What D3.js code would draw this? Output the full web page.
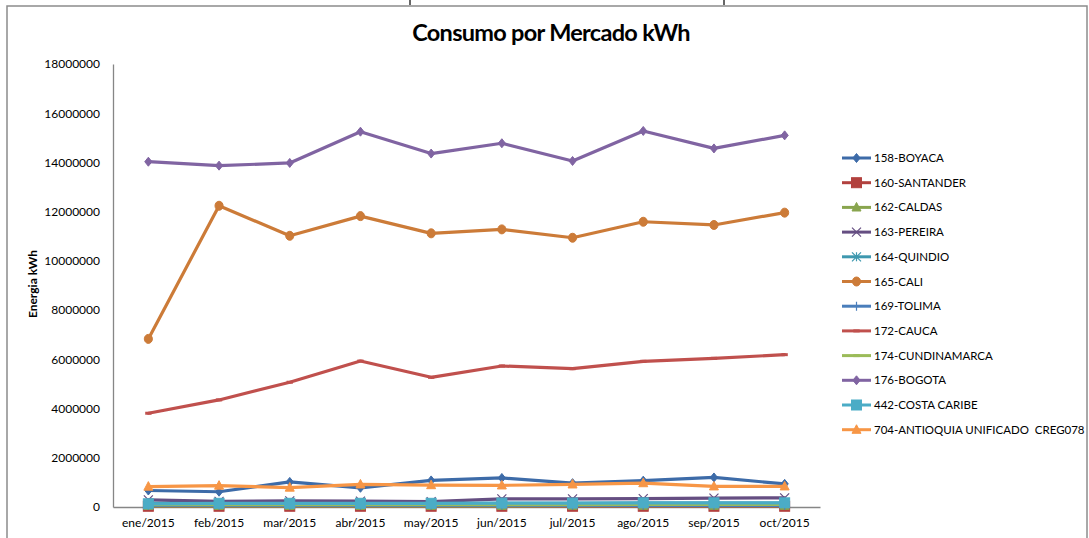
<!DOCTYPE html>
<html><head><meta charset="utf-8">
<script src="https://cdn.jsdelivr.net/npm/d3@7"></script>
<style>
html,body{margin:0;padding:0;background:#fff;}
text{font-family:Lato,"Open Sans",sans-serif;fill:#000;}
</style></head>
<body><svg id="c" width="1089" height="538"></svg>
<script>
const months = ["ene/2015","feb/2015","mar/2015","abr/2015","may/2015","jun/2015","jul/2015","ago/2015","sep/2015","oct/2015"];
const yTicks = [0,2000000,4000000,6000000,8000000,10000000,12000000,14000000,16000000,18000000];
const seriesNames = ["158-BOYACA","160-SANTANDER","162-CALDAS","163-PEREIRA","164-QUINDIO","165-CALI","169-TOLIMA","172-CAUCA","174-CUNDINAMARCA","176-BOGOTA","442-COSTA CARIBE","704-ANTIOQUIA UNIFICADO  CREG078"];
const boyaca      = [670000,620000,1020000,780000,1080000,1180000,970000,1070000,1200000,940000];
const santander   = [30000,30000,30000,30000,30000,30000,30000,30000,30000,30000];
const caldas      = [45000,45000,45000,45000,45000,45000,50000,50000,50000,50000];
const pereira     = [290000,230000,250000,240000,220000,330000,330000,340000,360000,370000];
const quindio     = [150000,140000,140000,140000,140000,150000,150000,160000,160000,160000];
const cali        = [6830000,12240000,11020000,11820000,11120000,11280000,10940000,11590000,11460000,11960000];
const tolima      = [70000,70000,70000,70000,70000,70000,70000,70000,70000,70000];
const cauca       = [3810000,4350000,5070000,5930000,5270000,5730000,5620000,5920000,6040000,6190000];
const cundinamarca= [100000,100000,100000,100000,100000,100000,100000,110000,110000,110000];
const bogota      = [14030000,13870000,13980000,15250000,14360000,14780000,14060000,15280000,14570000,15100000];
const costaCaribe = [130000,150000,150000,150000,150000,160000,160000,170000,170000,170000];
const antioquia   = [830000,870000,790000,920000,890000,880000,920000,970000,840000,840000];

const seriesValues = [boyaca,santander,caldas,pereira,quindio,cali,tolima,cauca,cundinamarca,bogota,costaCaribe,antioquia];
const colors  = ["#3D6BA8","#B2413E","#89A54E","#654E82","#3E98AF","#CC7B38","#4A7EBB","#C0504D","#9BBB59","#8064A2","#4BACC6","#F79646"];
const markers = ["diamond","square","triangle","x","star","circle","plus","dash","dash","diamond","square","triangle"];

const svg = d3.select("#c");
svg.append("rect").attr("x",7).attr("y",6).attr("width",1080).attr("height",545)
  .attr("fill","none").attr("stroke","#8c8c8c").attr("stroke-width",1.5);
svg.append("line").attr("x1",410).attr("x2",410).attr("y1",0).attr("y2",5).attr("stroke","#333").attr("stroke-width",1.5);
svg.append("line").attr("x1",724).attr("x2",724).attr("y1",0).attr("y2",5).attr("stroke","#333").attr("stroke-width",1.5);

svg.append("text").attr("x",551).attr("y",41).attr("text-anchor","middle")
  .style("font-weight","bold").style("font-size","23.5px").style("letter-spacing","-0.7px").text("Consumo por Mercado kWh");

const x = d3.scaleBand().domain(months).range([113,820]);
const y = d3.scaleLinear().domain([0,18000000]).range([507,64]);
const cx = m => x(m) + x.bandwidth()/2;

const gy = svg.append("g").attr("transform","translate(113,0)")
  .call(d3.axisLeft(y).tickValues(yTicks).tickFormat(d3.format("d")).tickSize(0).tickPadding(13));
gy.select(".domain").attr("stroke","#868686").attr("stroke-width",1.3);
gy.selectAll("text").style("font-size","12px").style("font-family","Lato");

const gx = svg.append("g").attr("transform","translate(0,507)")
  .call(d3.axisBottom(x).tickSize(0).tickPadding(11));
gx.select(".domain").attr("stroke","#868686").attr("stroke-width",1.3);
gx.selectAll("text").style("font-size","12px").style("font-family","Lato");

svg.append("text").attr("transform","translate(37,284) rotate(-90)").attr("text-anchor","middle")
  .style("font-weight","bold").style("font-size","12px").text("Energia kWh");

function drawMarker(g, type, px, py, color, s){
  if(type==="diamond"){
    g.append("path").attr("d",`M${px},${py-s}L${px+s*0.8},${py}L${px},${py+s}L${px-s*0.8},${py}Z`).attr("fill",color).attr("stroke",color);
  } else if(type==="square"){
    g.append("rect").attr("x",px-s).attr("y",py-s).attr("width",2*s).attr("height",2*s).attr("fill",color).attr("stroke",color);
  } else if(type==="triangle"){
    g.append("path").attr("d",`M${px},${py-s*1.1}L${px+s},${py+s*0.8}L${px-s},${py+s*0.8}Z`).attr("fill",color).attr("stroke",color);
  } else if(type==="circle"){
    g.append("ellipse").attr("cx",px).attr("cy",py).attr("rx",s*0.9).attr("ry",s).attr("fill",color).attr("stroke",color);
  } else if(type==="x"){
    g.append("path").attr("d",`M${px-s},${py-s}L${px+s},${py+s}M${px+s},${py-s}L${px-s},${py+s}`).attr("stroke",color).attr("stroke-width",1.2).attr("fill","none");
  } else if(type==="star"){
    g.append("path").attr("d",`M${px-s},${py-s}L${px+s},${py+s}M${px+s},${py-s}L${px-s},${py+s}M${px},${py-s}L${px},${py+s}`).attr("stroke",color).attr("stroke-width",1.2).attr("fill","none");
  } else if(type==="plus"){
    g.append("path").attr("d",`M${px},${py-s}L${px},${py+s}M${px-s},${py}L${px+s},${py}`).attr("stroke",color).attr("stroke-width",1.2).attr("fill","none");
  } else if(type==="dash"){
    g.append("path").attr("d",`M${px-s*0.7},${py}L${px+s*0.7},${py}`).attr("stroke",color).attr("stroke-width",3).attr("fill","none");
  }
}

const line = d3.line().x((d,i)=>cx(months[i])).y(d=>y(d));
const plot = svg.append("g");
seriesValues.forEach((vals,k)=>{
  const g = plot.append("g");
  g.append("path").datum(vals).attr("d",line).attr("fill","none").attr("stroke",colors[k])
    .attr("stroke-width",3.2).attr("stroke-linejoin","round").attr("stroke-linecap","round");
  vals.forEach((v,i)=>drawMarker(g, markers[k], cx(months[i]), y(v), colors[k], markers[k]==="square"?5:4.5));
});

const lg = svg.append("g");
seriesNames.forEach((n,k)=>{
  const ly = 158 + k*24.7;
  lg.append("line").attr("x1",842).attr("x2",871).attr("y1",ly).attr("y2",ly).attr("stroke",colors[k]).attr("stroke-width",3);
  drawMarker(lg, markers[k], 856.5, ly, colors[k], markers[k]==="square"?5:4.5);
  lg.append("text").attr("x",874).attr("y",ly+4).style("font-size","11.5px").style("white-space","pre").text(n);
});
</script></body></html>
